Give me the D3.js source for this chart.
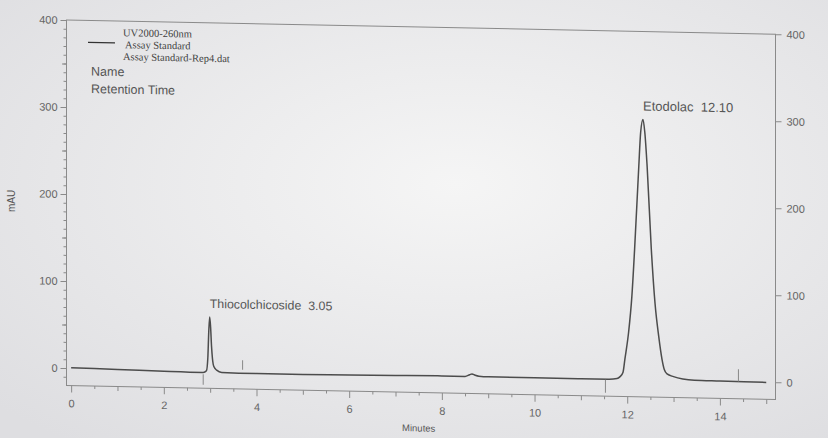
<!DOCTYPE html>
<html>
<head>
<meta charset="utf-8">
<style>
    body { margin: 0; background: #e8e8ea; }
    svg { display: block; }
    text { font-family: "Liberation Sans", Arial, sans-serif; fill: #555; }
    .leyenda text { font-family: "Liberation Serif", "Times New Roman", serif; fill: #3f3f3f; }
    .eje path, .eje line { stroke: #8a8a8a; }
    .eje text { font-size: 11px; fill: #666; font-family: "Liberation Sans", Arial, sans-serif; }
</style>
<script src="https://cdn.jsdelivr.net/npm/d3@7"></script>
</head>
<body>
<svg id="Cromatograma"></svg>
<script>
const tiempos = [0, 1, 2, 2.85, 2.92, 2.95, 2.97, 2.99, 3.01, 3.03, 3.05, 3.08, 3.14, 3.25,
    4, 5, 6, 7, 8, 8.5, 8.6, 8.65, 8.72, 8.8, 9, 10, 11, 11.6, 11.78, 11.84, 11.91, 11.95,
    12.03, 12.1, 12.16, 12.25, 12.29, 12.34, 12.38, 12.43, 12.52, 12.6, 12.68, 12.75, 12.8,
    12.86, 13.0, 13.2, 13.45, 14, 15.0];
const senal = [0.5, -0.5, -1.5, -2, 0, 15, 45, 62, 50, 28, 14, 5, 1, -1.5,
    -2, -2, -1.5, -1, -0.5, -0.5, 1.5, 2.5, 1, 0, -0.5, -0.5, -0.5, -0.5, 0.5, 2.5, 8, 23,
    54, 95, 150, 245, 284, 299, 284, 245, 150, 88, 50, 24, 12,
    7, 4, 1.5, 0.3, 0, -0.5];

const picosNombre = ["Thiocolchicoside", "Etodolac"];
const picosRetencion = ["3.05", "12.10"];
const picosTiempo = [2.99, 12.34];
const picosAltura = [62, 299];

// marcas de integracion (inicio abajo, fin arriba)
const marcasTiempo = [2.85, 3.70, 11.53, 14.4];
const marcasDesde = [-4, 2, -1, 0];
const marcasHasta = [-16, 13, -16, 14];

const ticksX = [0, 2, 4, 6, 8, 10, 12, 14];
const ticksY = [0, 100, 200, 300, 400];
const dominioX = [-0.1, 15.2];
const dominioY = [-20, 400];

const leyenda = ["UV2000-260nm", "Assay Standard", "Assay Standard-Rep4.dat"];
const etiquetas = ["Name", "Retention Time"];

function configuracion() {
    let ancho = 828, alto = 438;
    let margenes = { left: 66.5, right: 828 - 775.5, top: 20, bottom: 438 - 385.4 };
    let inclinacion = 0.02; // la foto esta un poco torcida
    let contenedor = d3.select("#Cromatograma").attr("width", ancho).attr("height", alto);
    return { ancho, alto, margenes, inclinacion, contenedor };
}

function escalas(conf) {
    let { ancho, alto, margenes } = conf;
    let escalaX = d3.scaleLinear().domain(dominioX).range([margenes.left, ancho - margenes.right]);
    let escalaY = d3.scaleLinear().domain(dominioY).range([alto - margenes.bottom, margenes.top]);
    return { escalaX, escalaY };
}

function dibujarFondo(conf) {
    let defs = conf.contenedor.append("defs");
    let grad = defs.append("radialGradient").attr("id", "papel")
        .attr("cx", "55%").attr("cy", "42%").attr("r", "75%");
    grad.append("stop").attr("offset", "0%").attr("stop-color", "#f5f5f5");
    grad.append("stop").attr("offset", "100%").attr("stop-color", "#dedee1");
    conf.contenedor.append("rect").attr("width", conf.ancho).attr("height", conf.alto)
        .attr("fill", "url(#papel)");
}

function dibujarEjes(g, esc, conf) {
    let { escalaX, escalaY } = esc;
    let x0 = escalaX.range()[0], x1 = escalaX.range()[1];
    let yB = escalaY.range()[0];

    // marco
    g.append("rect")
        .attr("x", x0).attr("y", escalaY(400))
        .attr("width", x1 - x0).attr("height", yB - escalaY(400))
        .attr("fill", "none").attr("stroke", "#8a8a8a").attr("stroke-width", 1);

    // eje izquierdo: menores cada 10, medios cada 50, mayores cada 100
    let izq = g.append("g").attr("class", "eje").attr("transform", `translate(${x0},0)`);
    izq.append("g").call(d3.axisLeft(escalaY).tickValues(d3.range(-10, 401, 10)).tickSize(3).tickFormat(""));
    izq.append("g").call(d3.axisLeft(escalaY).tickValues(d3.range(50, 401, 100)).tickSize(4.5).tickFormat(""));
    izq.append("g").call(d3.axisLeft(escalaY).tickValues(ticksY).tickSize(6).tickPadding(3).tickSizeOuter(0));
    izq.selectAll(".domain").remove();

    // eje derecho
    let der = g.append("g").attr("class", "eje").attr("transform", `translate(${x1},0)`);
    der.call(d3.axisRight(escalaY).tickValues(ticksY).tickSize(6).tickPadding(5).tickSizeOuter(0));
    der.selectAll(".domain").remove();

    // eje inferior
    let inf = g.append("g").attr("class", "eje").attr("transform", `translate(0,${yB})`);
    inf.append("g").call(d3.axisBottom(escalaX).tickValues(d3.range(0.5, 15.1, 1)).tickSize(3).tickFormat(""));
    inf.append("g").call(d3.axisBottom(escalaX).tickValues(d3.range(1, 15.1, 2)).tickSize(4.5).tickFormat(""));
    inf.append("g").call(d3.axisBottom(escalaX).tickValues(ticksX).tickSize(7).tickPadding(7).tickSizeOuter(0));
    inf.selectAll(".domain").remove();

    g.append("text")
        .attr("x", escalaX(7.5)).attr("y", yB + 39)
        .attr("text-anchor", "middle").attr("font-size", 9.5).attr("fill", "#555")
        .text("Minutes");
}

function dibujarTraza(g, esc) {
    let { escalaX, escalaY } = esc;
    let puntos = tiempos.map((t, i) => ({ t, v: senal[i] }));
    let linea = d3.line().x(d => escalaX(d.t)).y(d => escalaY(d.v)).curve(d3.curveMonotoneX);
    g.append("path").datum(puntos)
        .attr("d", linea)
        .attr("fill", "none").attr("stroke", "#4c4c4c").attr("stroke-width", 1.5);

    g.selectAll(".marca").data(marcasTiempo).enter().append("line")
        .attr("class", "marca")
        .attr("x1", d => escalaX(d)).attr("x2", d => escalaX(d))
        .attr("y1", (d, i) => escalaY(marcasDesde[i]))
        .attr("y2", (d, i) => escalaY(marcasHasta[i]))
        .attr("stroke", "#888").attr("stroke-width", 1);

    g.selectAll(".pico").data(picosNombre).enter().append("text")
        .attr("class", "pico")
        .attr("x", (d, i) => escalaX(picosTiempo[i]))
        .attr("y", (d, i) => escalaY(picosAltura[i]) - 9)
        .attr("font-size", (d, i) => i == 0 ? 12.4 : 13).attr("fill", "#4a4a4a")
        .style("white-space", "pre")
        .text((d, i) => `${d}  ${picosRetencion[i]}`);
}

function dibujarLeyenda(g) {
    let ley = g.append("g").attr("class", "leyenda");
    ley.append("line").attr("x1", 88).attr("x2", 115).attr("y1", 42).attr("y2", 42)
        .attr("stroke", "#333").attr("stroke-width", 1.3);
    ley.selectAll("text").data(leyenda).enter().append("text")
        .attr("x", (d, i) => i == 1 ? 125 : 123)
        .attr("y", (d, i) => 35 + i * 12)
        .attr("font-size", 10.5)
        .text(d => d);

    g.selectAll(".etiqueta").data(etiquetas).enter().append("text")
        .attr("class", "etiqueta")
        .attr("x", 91).attr("y", (d, i) => 75 + i * 17.5)
        .attr("font-size", 12.5).attr("fill", "#4a4a4a")
        .text(d => d);
}

function dibujar() {
    let conf = configuracion();
    let esc = escalas(conf);
    dibujarFondo(conf);

    conf.contenedor.append("text")
        .attr("transform", "translate(15,201) rotate(-90)")
        .attr("text-anchor", "middle").attr("font-size", 10).attr("fill", "#555")
        .text("mAU");

    let k = conf.inclinacion;
    let g = conf.contenedor.append("g")
        .attr("transform", `matrix(1,${k},0,1,0,${-k * conf.margenes.left})`);
    dibujarEjes(g, esc, conf);
    dibujarTraza(g, esc);
    dibujarLeyenda(g);
}

dibujar();
</script>
</body>
</html>
